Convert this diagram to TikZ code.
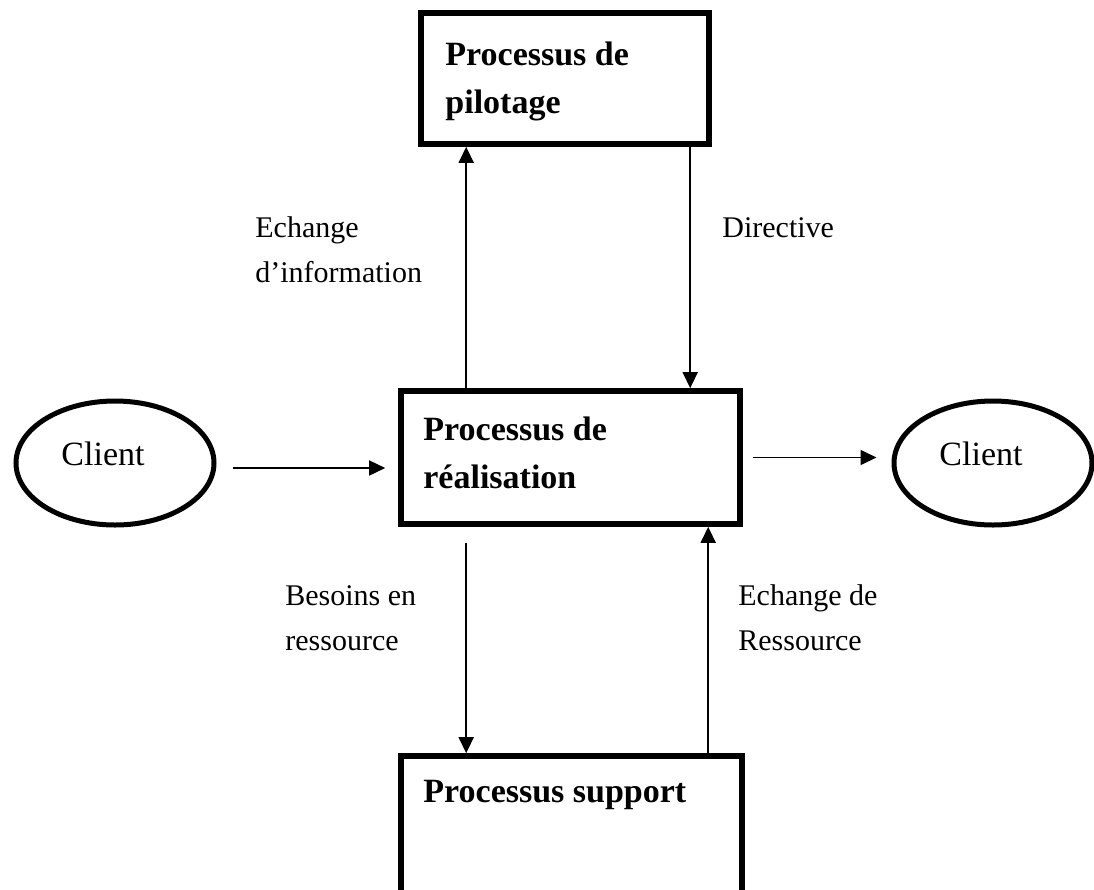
\documentclass[tikz,border=0pt]{standalone}
\usepackage{fontspec}
\setmainfont{Liberation Serif}
\usepackage{tikz}
\usetikzlibrary{arrows.meta,shapes,positioning}
\tikzset{
	basic/.style = {draw, inner sep=0pt},
	process/.style = {basic, rectangle, line width=2.8pt},
	client/.style = {basic, ellipse, line width=2.5pt, minimum width=99pt, minimum height=62pt, text depth=9pt, execute at begin node=\hspace*{-12pt}, font=\fontsize{17}{23}\selectfont},
	title/.style = {anchor=base west, align=left, inner sep=0pt, font=\fontsize{17}{24}\selectfont\bfseries},
	note/.style = {anchor=base west, align=left, inner sep=0pt, font=\fontsize{15}{22.5}\selectfont},
	flow/.style = {->, line width=0.8pt}
}

\begin{document}
\begin{tikzpicture}[x=0.5pt, y=-0.5pt,
				>={Triangle[length=8pt,width=7.5pt]}]
				\useasboundingbox (0,0) rectangle (1094,890);
				\node[process, minimum width=144pt, minimum height=65.5pt] (pil) at (565,78.5) {};
				\node[process, minimum width=169.5pt, minimum height=66.5pt] (real) at (570.5,457.5) {};
				\node[process, minimum width=170.5pt, minimum height=72pt] (sup) at (571.5,828) {};
				\node[client] (cl1) at (115,463) {Client};
				\node[client] (cl2) at (993,463) {Client};
				\node[title] (pilt) at (445,113) {Processus de\\pilotage};
				\node[title] (realt) at (423,488) {Processus de\\réalisation};
				\node[title] (supt) at (423,802) {Processus support};
				\node[note] (info) at (255,282) {Echange\\d’information};
				\node[note] (dir) at (722,237) {Directive};
				\node[note] (bes) at (285,650) {Besoins en\\ressource};
				\node[note] (ech) at (738,650) {Echange de\\Ressource};
				\draw[flow] ([xshift=34pt]real.north west) -- ([xshift=34pt]real.north west |- pil.south);
				\draw[flow] ([xshift=136pt]pil.south west) -- ([xshift=136pt]pil.south west |- real.north);
				\draw[flow, shorten <=8pt, shorten >=6.5pt] ([yshift=-2.5pt]cl1.east) -- ([yshift=-2.5pt]cl1.east -| real.west);
				\draw[flow, shorten <=5pt, shorten >=7.5pt] (real.east) -- (real.east -| cl2.west);
				\draw[flow, shorten <=8pt] ([xshift=34pt]real.south west) -- ([xshift=34pt]real.south west |- sup.north);
				\draw[flow] ([xshift=155pt]sup.north west) -- ([xshift=155pt]sup.north west |- real.south);
\end{tikzpicture}
\end{document}
